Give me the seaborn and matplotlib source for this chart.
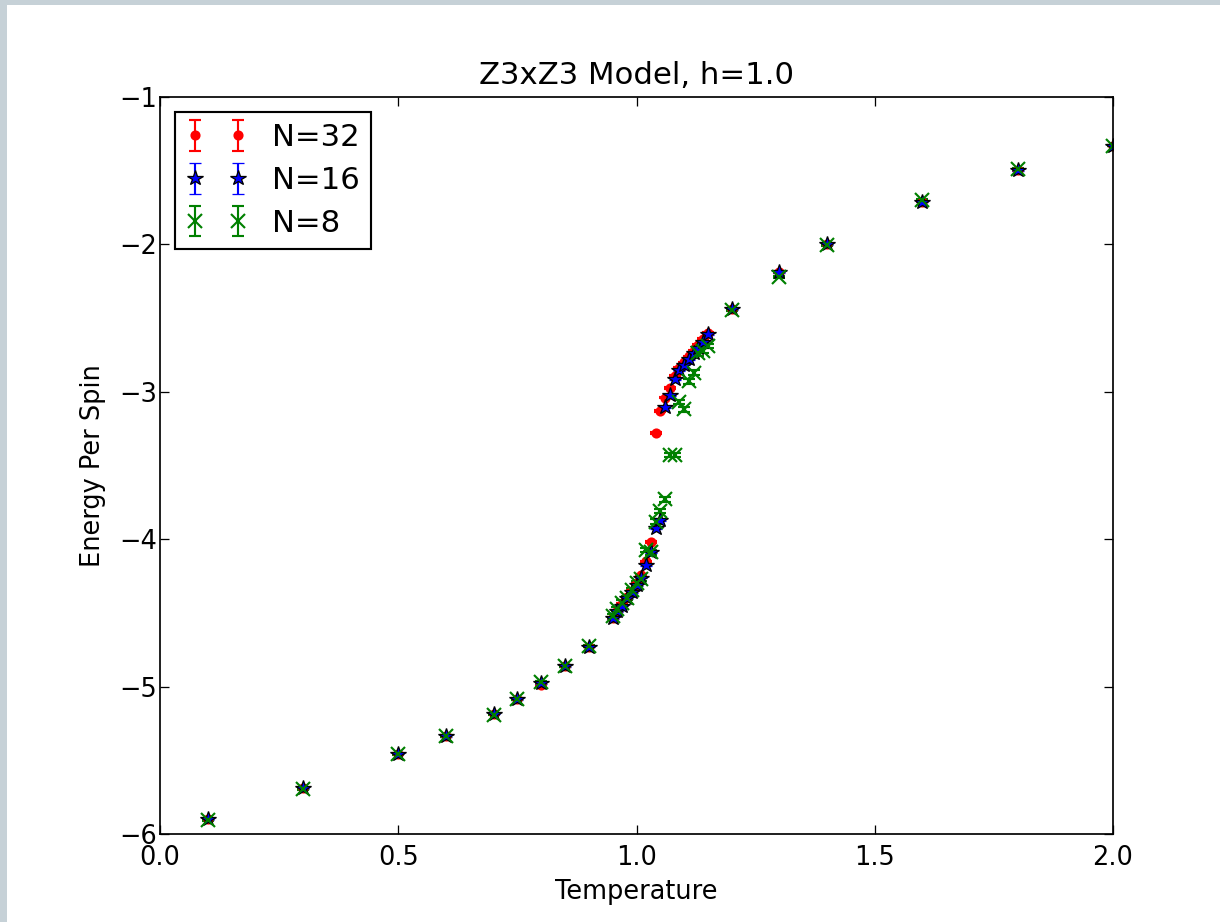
import matplotlib
matplotlib.use("Agg")
import matplotlib.pyplot as plt
import matplotlib.patches as mpatches
import seaborn as sns

# Datos
temperature = [0.1, 0.3, 0.5, 0.6, 0.7, 0.75, 0.8, 0.85, 0.9,
               0.95, 0.96, 0.97, 0.98, 0.99, 1.00, 1.01, 1.02, 1.03, 1.04,
               1.05, 1.06, 1.07, 1.08, 1.09, 1.10, 1.11, 1.12, 1.13, 1.14, 1.15,
               1.2, 1.3, 1.4, 1.6, 1.8, 2.0]

energy_n32 = [-5.90, -5.69, -5.455, -5.335, -5.185, -5.085, -4.99, -4.86, -4.73,
              -4.535, -4.485, -4.44, -4.395, -4.35, -4.295, -4.24, -4.15, -4.02, -3.28,
              -3.13, -3.04, -2.975, -2.89, -2.84, -2.80, -2.76, -2.72, -2.68, -2.64, -2.60,
              -2.44, -2.19, -2.00, -1.71, -1.495, -1.33]

energy_n16 = [-5.90, -5.69, -5.455, -5.335, -5.185, -5.085, -4.975, -4.86, -4.73,
              -4.535, -4.49, -4.45, -4.40, -4.36, -4.31, -4.26, -4.175, -4.09, -3.925,
              -3.87, -3.105, -3.025, -2.915, -2.855, -2.815, -2.775, -2.74, -2.705, -2.665, -2.61,
              -2.44, -2.19, -2.00, -1.71, -1.495, -1.33]

energy_n8 = [-5.905, -5.695, -5.46, -5.335, -5.19, -5.085, -4.97, -4.86, -4.725,
             -4.52, -4.475, -4.43, -4.40, -4.345, -4.30, -4.27, -4.075, -4.09, -3.88,
             -3.81, -3.73, -3.43, -3.43, -3.07, -3.12, -2.93, -2.87, -2.74, -2.72, -2.69,
             -2.445, -2.22, -2.005, -1.70, -1.49, -1.33]

err_n32 = [0.004] * 9 + [0.005] * 21 + [0.004] * 6
err_n16 = [0.004] * 9 + [0.006] * 21 + [0.004] * 6
err_n8 = [0.005] * 9 + [0.015] * 21 + [0.005] * 6

xticks = [0.0, 0.5, 1.0, 1.5, 2.0]
yticks = [-6, -5, -4, -3, -2, -1]

# Estilo
sns.set_style("white", {
    "xtick.direction": "in",
    "ytick.direction": "in",
    "axes.edgecolor": "black",
    "axes.linewidth": 1.0,
    "xtick.top": True,
    "ytick.right": True,
    "xtick.bottom": True,
    "ytick.left": True,
})
plt.rcParams["font.family"] = ["DejaVu Sans"]
plt.rcParams["font.size"] = 12
plt.rcParams["xtick.major.size"] = 4
plt.rcParams["ytick.major.size"] = 4
plt.rcParams["xtick.major.width"] = 0.6
plt.rcParams["ytick.major.width"] = 0.6
plt.rcParams["xtick.color"] = "black"
plt.rcParams["ytick.color"] = "black"
plt.rcParams["text.color"] = "black"
plt.rcParams["axes.labelcolor"] = "black"

dpi = 153.75
fig = plt.figure(figsize=(1220 / dpi, 922 / dpi), dpi=dpi)
fig.patch.set_facecolor("white")

# Borde gris de la captura
gris = "#c6d1d7"
fig.patches.append(mpatches.Rectangle((0, 1 - 5 / 922), 1, 5 / 922, transform=fig.transFigure,
                                      facecolor=gris, edgecolor="none", zorder=0))
fig.patches.append(mpatches.Rectangle((0, 0), 7 / 1220, 1, transform=fig.transFigure,
                                      facecolor=gris, edgecolor="none", zorder=0))

ax = fig.add_axes([160 / 1220, 1 - 834 / 922, 953 / 1220, 737 / 922])

ax.errorbar(temperature, energy_n32, yerr=err_n32, fmt=".", color="red", ms=7.5,
            mec="red", capsize=3, elinewidth=1, label="N=32")
ax.errorbar(temperature, energy_n16, yerr=err_n16, fmt="*", color="blue", ms=7.5,
            mec="black", mew=0.6, capsize=3, elinewidth=1, label="N=16")
ax.errorbar(temperature, energy_n8, yerr=err_n8, fmt="x", color="green", ms=6.5,
            mew=1, capsize=3, elinewidth=1, label="N=8")

ax.set_xlim(0, 2)
ax.set_ylim(-6, -1)
ax.set_xticks(xticks)
ax.set_xticklabels([f"{t:.1f}" for t in xticks])
ax.set_yticks(yticks)
ax.set_yticklabels([f"\u2212{abs(t)}" for t in yticks])
ax.tick_params(axis="x", which="major", labelsize=12, pad=5)
ax.tick_params(axis="y", which="major", labelsize=12, pad=1.5)

ax.set_title("Z3xZ3 Model, h=1.0", fontsize=14.4)
ax.set_xlabel("Temperature", fontsize=12)
ax.set_ylabel("Energy Per Spin", fontsize=12, labelpad=6)

leg = ax.legend(loc="upper left", numpoints=2, fontsize=14.4, fancybox=False,
                framealpha=1, edgecolor="black", borderpad=0.35, labelspacing=0.45,
                handlelength=2, handletextpad=0.8, borderaxespad=0.5)
leg.get_frame().set_linewidth(1.0)

fig.savefig("out.png", dpi=dpi)
